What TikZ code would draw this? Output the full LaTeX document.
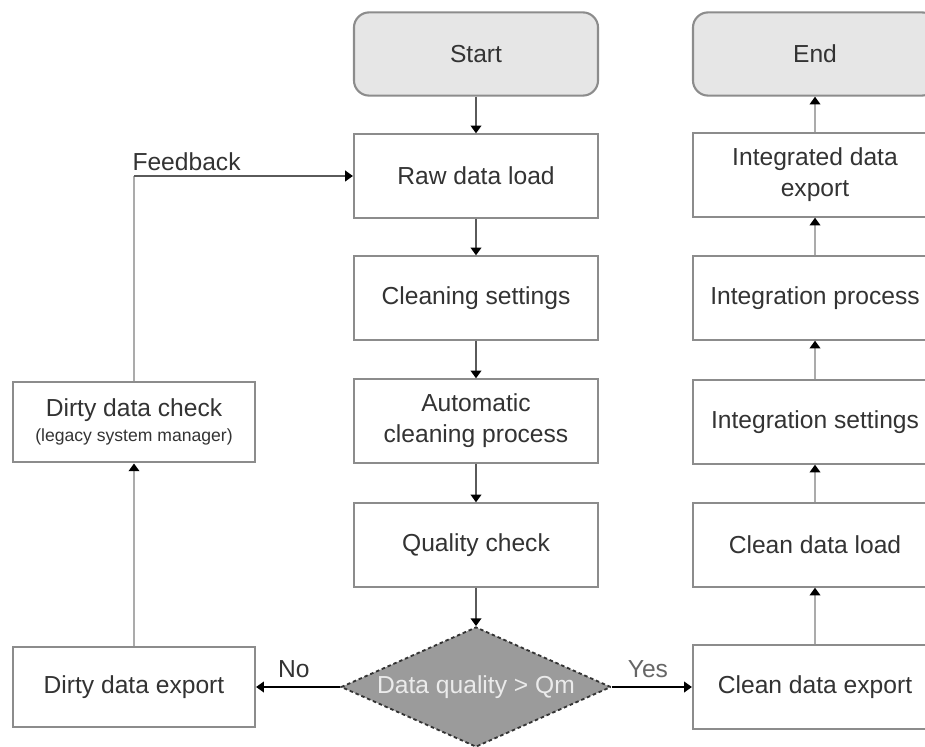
\documentclass[tikz,border=0pt]{standalone}
\usepackage{fontspec}
\setmainfont{Liberation Sans}
\usepackage{tikz}
\usetikzlibrary{positioning}
\usetikzlibrary{shapes.geometric}
\usetikzlibrary{arrows.meta}

\definecolor{txtgray}{HTML}{333333}
\definecolor{boxgray}{HTML}{8C8C8C}
\definecolor{termfill}{HTML}{E6E6E6}
\definecolor{decfill}{HTML}{9B9B9B}
\definecolor{darkline}{HTML}{5A5A5A}
\definecolor{paleline}{HTML}{ABABAB}

\begin{document}
\begin{tikzpicture}[x=0.025cm, y=-0.025cm,
		every node/.style={text=txtgray, align=center, font=\fontsize{17.5}{22}\selectfont},
		box/.style={draw=boxgray, line width=1.5pt, fill=white, minimum width=6.1cm, minimum height=2.08cm, inner sep=2pt},
		terminal/.style={box, fill=termfill, rounded corners=0.38cm},
		decision/.style={diamond, draw=txtgray, fill=decfill, line width=1.3pt, dash pattern=on 2.5pt off 2pt, inner sep=0pt, minimum width=6.75cm, minimum height=3cm},
		tip/.style={-{Triangle[color=black, width=7.5pt, length=5.5pt]}},
		flowdown/.style={tip, draw=darkline, line width=1.4pt},
		flowup/.style={tip, draw=paleline, line width=1.6pt},
		branch/.style={tip, draw=black, line width=1.2pt}]
		\useasboundingbox (0,0) rectangle (925,747);

		% Cleaning column
		\node[terminal] (start) at (476,54) {Start};
		\node[box] (raw)   at (476,176) {Raw data load};
		\node[box] (cset)  at (476,298) {Cleaning settings};
		\node[box] (auto)  at (476,421) {Automatic\\cleaning process};
		\node[box] (qual)  at (476,545) {Quality check};
		\node[decision] (qm) at (476,687) {};
		\node[text=white!92!black] at (qm) {Data quality > Qm};

		% Integration column
		\node[terminal] (end) at (815,54) {End};
		\node[box] (iexp)  at (815,175) {Integrated data\\export};
		\node[box] (iproc) at (815,298) {Integration process};
		\node[box] (iset)  at (815,422) {Integration settings};
		\node[box] (cload) at (815,545) {Clean data load};
		\node[box] (cexp)  at (815,687) {Clean data export};

		% Dirty data column
		\node[box, minimum width=6.05cm, minimum height=2.02cm] (dcheck) at (134,422)
			{Dirty data check\\[-4pt]{\fontsize{12.5}{14}\selectfont (legacy system manager)}};
		\node[box, minimum width=6.05cm, minimum height=2.02cm] (dexp) at (134,687) {Dirty data export};
		\coordinate (fb) at (raw.west -| dcheck.north);

		% Edges down the cleaning column
		\draw[flowdown] (start) -- (raw);
		\draw[flowdown] (raw) -- (cset);
		\draw[flowdown] (cset) -- (auto);
		\draw[flowdown] (auto) -- (qual);
		\draw[flowdown] (qual) -- (qm);

		% Edges up the integration column
		\draw[flowup] (cexp) -- (cload);
		\draw[flowup] (cload) -- (iset);
		\draw[flowup] (iset) -- (iproc);
		\draw[flowup] (iproc) -- (iexp);
		\draw[flowup] (iexp) -- (end);

		% Decision branches
		\draw[branch] (qm.west) -- node[above=3pt, pos=0.55] {No} (dexp.east);
		\draw[branch] (qm.east) -- node[above=3pt, pos=0.45, text=black!60] {Yes} (cexp.west);

		% Feedback loop
		\draw[flowup] (dexp) -- (dcheck);
		\draw[draw=paleline, line width=1.6pt] (dcheck.north) -- (fb);
		\draw[tip, draw=darkline, line width=1.5pt] (fb) -- node[above, pos=0.24] {Feedback} (raw.west);
	\end{tikzpicture}
\end{document}
